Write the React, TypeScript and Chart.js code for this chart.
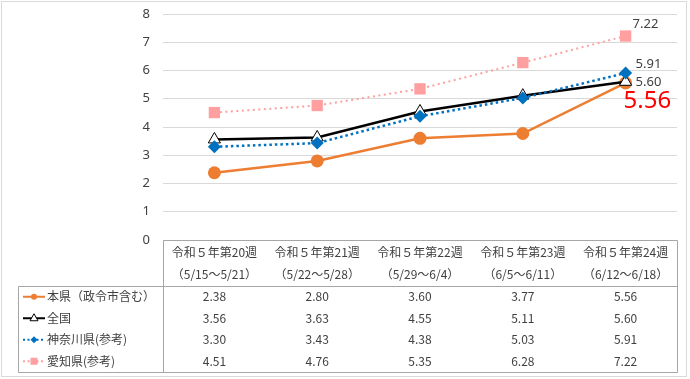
import React, { useEffect, useRef } from 'react';
import { Chart, registerables } from 'chart.js';

Chart.register(...registerables);

const weekLabels = ['令和５年第20週', '令和５年第21週', '令和５年第22週', '令和５年第23週', '令和５年第24週'];
const periodLabels = ['（5/15～5/21）', '（5/22～5/28）', '（5/29～6/4）', '（6/5～6/11）', '（6/12～6/18）'];
const seriesNames = ['本県（政令市含む）', '全国', '神奈川県(参考)', '愛知県(参考)'];
const honken = [2.38, 2.80, 3.60, 3.77, 5.56];
const zenkoku = [3.56, 3.63, 4.55, 5.11, 5.60];
const kanagawa = [3.30, 3.43, 4.38, 5.03, 5.91];
const aichi = [4.51, 4.76, 5.35, 6.28, 7.22];
const yMin = 0;
const yMax = 8;

const ORANGE = '#ED7D31';
const BLACK = '#000000';
const BLUE = '#0070C0';
const PINK = '#FF9F9F';
const TEXT = '#404040';
const JP = '"Noto Sans CJK JP", "Noto Sans", sans-serif';

const seriesValues = [honken, zenkoku, kanagawa, aichi];

function drawSample(ctx: CanvasRenderingContext2D, i: number, cx: number, cy: number) {
  ctx.save();
  const x0 = cx - 11;
  const x1 = cx + 11;
  ctx.beginPath();
  if (i === 0) {
    ctx.strokeStyle = ORANGE; ctx.lineWidth = 2; ctx.setLineDash([]);
  } else if (i === 1) {
    ctx.strokeStyle = BLACK; ctx.lineWidth = 2; ctx.setLineDash([]);
  } else if (i === 2) {
    ctx.strokeStyle = BLUE; ctx.lineWidth = 2; ctx.setLineDash([2, 2.5]);
  } else {
    ctx.strokeStyle = PINK; ctx.lineWidth = 2; ctx.setLineDash([2, 2.5]);
  }
  ctx.moveTo(x0, cy); ctx.lineTo(x1, cy); ctx.stroke();
  ctx.setLineDash([]);
  ctx.beginPath();
  if (i === 0) {
    ctx.fillStyle = ORANGE; ctx.arc(cx, cy, 3, 0, Math.PI * 2); ctx.fill();
  } else if (i === 1) {
    ctx.fillStyle = '#fff'; ctx.strokeStyle = BLACK; ctx.lineWidth = 1;
    ctx.moveTo(cx, cy - 4.5); ctx.lineTo(cx + 4, cy + 2.5); ctx.lineTo(cx - 4, cy + 2.5); ctx.closePath();
    ctx.fill(); ctx.stroke();
  } else if (i === 2) {
    ctx.fillStyle = BLUE;
    ctx.moveTo(cx, cy - 3.5); ctx.lineTo(cx + 3.5, cy); ctx.lineTo(cx, cy + 3.5); ctx.lineTo(cx - 3.5, cy); ctx.closePath();
    ctx.fill();
  } else {
    ctx.fillStyle = PINK; ctx.fillRect(cx - 3.5, cy - 3.5, 7, 7);
  }
  ctx.restore();
}

const tablePlugin = {
  id: 'dataTable',
  afterDraw(chart: any) {
    const ctx: CanvasRenderingContext2D = chart.ctx;
    const xs = chart.scales.x;
    const area = chart.chartArea;
    const top = Math.round(area.bottom);
    const headBottom = top + 46;
    const tableBottom = 372;
    const left = 18;
    const right = Math.round(area.right);
    const colLeft = Math.round(area.left);
    ctx.save();
    ctx.strokeStyle = '#d9d9d9';
    ctx.lineWidth = 1;
    ctx.strokeRect(1.5, 1.5, 685, 375);
    ctx.strokeStyle = '#a6a6a6';
    ctx.beginPath();
    ctx.moveTo(colLeft + 0.5, top + 0.5);
    ctx.lineTo(right + 0.5, top + 0.5);
    ctx.lineTo(right + 0.5, tableBottom + 0.5);
    ctx.lineTo(left + 0.5, tableBottom + 0.5);
    ctx.lineTo(left + 0.5, headBottom + 0.5);
    ctx.lineTo(right + 0.5, headBottom + 0.5);
    ctx.moveTo(colLeft + 0.5, top + 0.5);
    ctx.lineTo(colLeft + 0.5, tableBottom + 0.5);
    ctx.stroke();

    ctx.fillStyle = TEXT;
    ctx.font = '12px ' + JP;
    ctx.textAlign = 'center';
    ctx.textBaseline = 'middle';
    weekLabels.forEach((w, j) => {
      const cx = xs.getPixelForValue(j);
      ctx.fillText(w, cx, top + 12);
      ctx.fillText(periodLabels[j], cx, top + 34);
    });
    const rowH = (tableBottom - headBottom) / seriesNames.length;
    seriesNames.forEach((name, i) => {
      const cy = headBottom + rowH * (i + 0.5);
      drawSample(ctx, i, 34, cy);
      ctx.fillStyle = TEXT;
      ctx.font = '12px ' + JP;
      ctx.textAlign = 'left';
      ctx.fillText(name, 47, cy);
      ctx.textAlign = 'center';
      seriesValues[i].forEach((v, j) => {
        ctx.fillText(v.toFixed(2), xs.getPixelForValue(j), cy);
      });
    });
    ctx.restore();
  },
};

const labelPlugin = {
  id: 'lastLabels',
  afterDatasetsDraw(chart: any) {
    const ctx: CanvasRenderingContext2D = chart.ctx;
    const n = honken.length - 1;
    const pt = (i: number) => chart.getDatasetMeta(i).data[n];
    ctx.save();
    ctx.textBaseline = 'middle';
    ctx.textAlign = 'left';
    ctx.fillStyle = TEXT;
    ctx.font = '13px "Noto Sans", sans-serif';
    const pA = pt(3);
    ctx.fillText(aichi[n].toFixed(2), pA.x + 7, pA.y - 12);
    const pK = pt(2);
    ctx.fillText(kanagawa[n].toFixed(2), pK.x + 10, pK.y - 9);
    const pZ = pt(1);
    ctx.fillText(zenkoku[n].toFixed(2), pZ.x + 10, pZ.y + 0);
    const pH = pt(0);
    ctx.fillStyle = '#FF0000';
    ctx.font = '24px "Noto Sans", sans-serif';
    ctx.fillText(honken[n].toFixed(2), pH.x - 2, pH.y + 18);
    ctx.restore();
  },
};

export default function App() {
  const ref = useRef<HTMLCanvasElement | null>(null);
  useEffect(() => {
    document.body.style.margin = '0';
    const canvas = ref.current!;
    const chart = new Chart(canvas, {
      type: 'line',
      data: {
        labels: weekLabels,
        datasets: [
          {
            label: seriesNames[0], data: honken, order: 4,
            borderColor: ORANGE, backgroundColor: ORANGE, borderWidth: 2.5,
            pointStyle: 'circle', pointRadius: 6.5, pointBorderWidth: 0,
            pointBackgroundColor: ORANGE, tension: 0,
          },
          {
            label: seriesNames[1], data: zenkoku, order: 3,
            borderColor: BLACK, backgroundColor: '#fff', borderWidth: 2.5,
            pointStyle: 'triangle', pointRadius: 7, pointBorderWidth: 1,
            pointBackgroundColor: '#fff', pointBorderColor: BLACK, tension: 0,
          },
          {
            label: seriesNames[2], data: kanagawa, order: 2,
            borderColor: BLUE, backgroundColor: BLUE, borderWidth: 2.5, borderDash: [2.5, 3],
            pointStyle: 'rectRot', pointRadius: 6.5, pointBorderWidth: 0,
            pointBackgroundColor: BLUE, tension: 0,
          },
          {
            label: seriesNames[3], data: aichi, order: 1,
            borderColor: PINK, backgroundColor: PINK, borderWidth: 2, borderDash: [2, 3.5],
            pointStyle: 'rect', pointRadius: 8, pointBorderWidth: 0,
            pointBackgroundColor: PINK, tension: 0,
          },
        ],
      },
      options: {
        responsive: false,
        animation: false,
        layout: { padding: { left: 0, top: 14, right: 13, bottom: 139 } },
        plugins: { legend: { display: false }, tooltip: { enabled: false } },
        scales: {
          x: { type: 'category', display: false, offset: true },
          y: {
            min: yMin, max: yMax,
            afterFit: (s: any) => { s.width = 163; s.paddingTop = 0; s.paddingBottom = 0; },
            border: { display: false },
            grid: {
              drawTicks: false,
              color: (c: any) => (c.tick && c.tick.value % 1 === 0 ? '#d9d9d9' : '#f0f0f0'),
            },
            ticks: {
              stepSize: 0.5,
              padding: 13,
              color: TEXT,
              font: { family: '"Noto Sans", sans-serif', size: 13 },
              callback: (v: any) => (Number(v) % 1 === 0 ? String(v) : ''),
            },
          },
        },
      },
      plugins: [tablePlugin, labelPlugin],
    });
    return () => chart.destroy();
  }, []);
  return (
    <div style={{ position: 'absolute', left: 0, top: 0, width: 690, height: 379, background: '#fff' }}>
      <canvas ref={ref} width={690} height={379} style={{ display: 'block' }} />
    </div>
  );
}
